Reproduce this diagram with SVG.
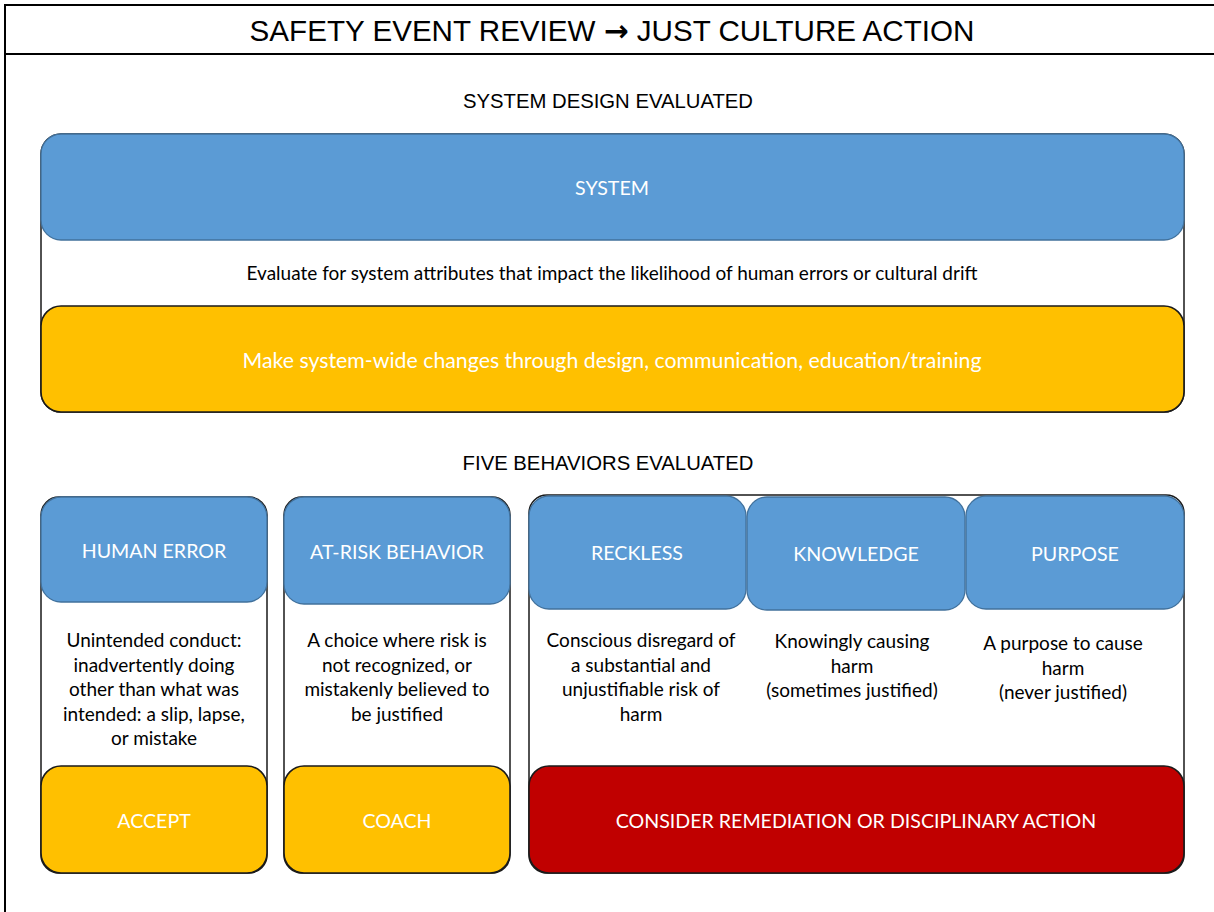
<svg xmlns="http://www.w3.org/2000/svg" width="1214" height="912" viewBox="0 0 1214 912">
<style>
.frame{fill:none;stroke:#000;stroke-width:2}
.cont{fill:#fff;stroke:#1a1a1a;stroke-width:1.5}
.blue{fill:#5B9BD5;stroke:#41719C;stroke-width:1.3}
.yel{fill:#FFC000;stroke:#1a1a1a;stroke-width:1.6}
.red{fill:#C00000;stroke:#1a1a1a;stroke-width:1.6}
.h{font-family:"Liberation Sans",Arial,sans-serif;fill:#000;text-anchor:middle}
.w{font-family:Lato,"Noto Sans",sans-serif;fill:#fff;text-anchor:middle;font-size:19.6px}
.d{font-family:Lato,"Noto Sans",sans-serif;fill:#000;text-anchor:middle;font-size:19px}
</style>
<rect width="1214" height="912" fill="#fff"/>
<g id="frame">
<path class="frame" d="M5,912 V5 H1214 M5,54 H1214"/>
<text class="h" x="612" y="41" font-size="29.6">SAFETY EVENT REVIEW <tspan font-family="'DejaVu Sans',sans-serif" font-weight="bold">→</tspan> JUST CULTURE ACTION</text>
</g>
<text class="h" x="608" y="108" font-size="20.3">SYSTEM DESIGN EVALUATED</text>
<text class="h" x="608" y="470" font-size="20.3">FIVE BEHAVIORS EVALUATED</text>
<g id="connectors"></g>
<g id="system-group">
<rect class="cont" x="41" y="134" width="1143" height="278" rx="20"/>
<g id="system">
<rect class="blue" x="41" y="134" width="1143" height="106" rx="20"/>
<text class="w" x="612" y="195">SYSTEM</text>
</g>
<text class="d" x="612" y="280">Evaluate for system attributes that impact the likelihood of human errors or cultural drift</text>
<g id="system-action">
<rect class="yel" x="41" y="306" width="1143" height="106" rx="20"/>
<text class="w" x="612" y="368" style="font-size:21.3px">Make system-wide changes through design, communication, education/training</text>
</g>
</g>
<g id="human-error-col">
<rect class="cont" x="41" y="497" width="226" height="376" rx="18"/>
<g id="human-error">
<rect class="blue" x="41" y="497" width="226" height="105" rx="20"/>
<text class="w" x="154" y="558">HUMAN ERROR</text>
</g>
<text class="d" x="154"><tspan x="154" y="647">Unintended conduct:</tspan><tspan x="154" y="671.5">inadvertently doing</tspan><tspan x="154" y="696">other than what was</tspan><tspan x="154" y="720.5">intended: a slip, lapse,</tspan><tspan x="154" y="745">or mistake</tspan></text>
<g id="accept">
<rect class="yel" x="41" y="766" width="226" height="107" rx="20"/>
<text class="w" x="154" y="828">ACCEPT</text>
</g>
</g>
<g id="at-risk-col">
<rect class="cont" x="284" y="497" width="226" height="376" rx="18"/>
<g id="at-risk">
<rect class="blue" x="284" y="497" width="226" height="107" rx="20"/>
<text class="w" x="397" y="559">AT-RISK BEHAVIOR</text>
</g>
<text class="d"><tspan x="397" y="647">A choice where risk is</tspan><tspan x="397" y="671.5">not recognized, or</tspan><tspan x="397" y="696">mistakenly believed to</tspan><tspan x="397" y="720.5">be justified</tspan></text>
<g id="coach">
<rect class="yel" x="284" y="766" width="226" height="107" rx="20"/>
<text class="w" x="397" y="828">COACH</text>
</g>
</g>
<g id="culpable-col">
<rect class="cont" x="529" y="495" width="655" height="378" rx="18"/>
<g id="reckless">
<rect class="blue" x="529" y="496" width="217" height="113" rx="20"/>
<text class="w" x="637" y="560">RECKLESS</text>
</g>
<g id="knowledge">
<rect class="blue" x="747" y="497" width="218" height="113" rx="20"/>
<text class="w" x="856" y="561">KNOWLEDGE</text>
</g>
<g id="purpose">
<rect class="blue" x="966" y="496" width="218" height="113" rx="20"/>
<text class="w" x="1075" y="561">PURPOSE</text>
</g>
<text class="d"><tspan x="641" y="647">Conscious disregard of</tspan><tspan x="641" y="671.5">a substantial and</tspan><tspan x="641" y="696">unjustifiable risk of</tspan><tspan x="641" y="720.5">harm</tspan></text>
<text class="d"><tspan x="852" y="648">Knowingly causing</tspan><tspan x="852" y="672.5">harm</tspan><tspan x="852" y="697">(sometimes justified)</tspan></text>
<text class="d"><tspan x="1063" y="650">A purpose to cause</tspan><tspan x="1063" y="674.5">harm</tspan><tspan x="1063" y="699">(never justified)</tspan></text>
<g id="discipline">
<rect class="red" x="529" y="766" width="655" height="107" rx="20"/>
<text class="w" x="856" y="828">CONSIDER REMEDIATION OR DISCIPLINARY ACTION</text>
</g>
</g>
</svg>
